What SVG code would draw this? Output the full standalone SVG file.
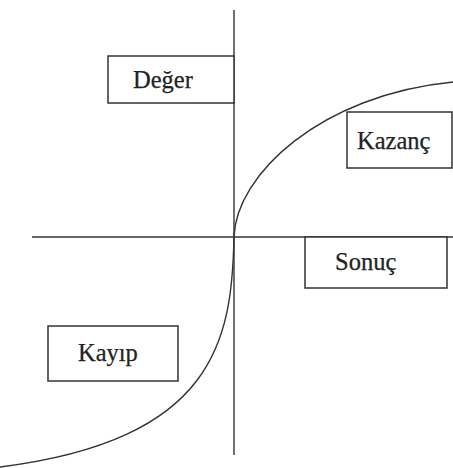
<svg xmlns="http://www.w3.org/2000/svg" width="453" height="468" viewBox="0 0 453 468">
<style>
.box{fill:#fff;stroke:#333;stroke-width:1.5}
.lbl{font-family:"Liberation Serif","Times New Roman",serif;font-size:24.5px;fill:#222;stroke:#222;stroke-width:0.25}
.ln{fill:none;stroke:#333;stroke-width:1.4}
</style>
<rect width="453" height="468" fill="#fff"/>
<g id="connectors">
<line class="ln" x1="234" y1="10" x2="234" y2="455"/>
<line class="ln" x1="32" y1="237" x2="453" y2="237"/>
<path class="ln" d="M234,237 C236,175 320,95 453,82"/>
<path class="ln" d="M234,237 C232,340 215,440 0,467"/>
</g>
<g id="deger">
<rect class="box" x="108" y="56" width="126" height="47"/>
<text class="lbl" x="133" y="88">Değer</text>
</g>
<g id="kazanc">
<rect class="box" x="347" y="112" width="105" height="56"/>
<text class="lbl" x="357" y="149">Kazanç</text>
</g>
<g id="sonuc">
<rect class="box" x="305" y="237" width="142" height="51"/>
<text class="lbl" x="335" y="270">Sonuç</text>
</g>
<g id="kayip">
<rect class="box" x="48" y="326" width="130" height="55"/>
<text class="lbl" x="78" y="361">Kayıp</text>
</g>
</svg>
